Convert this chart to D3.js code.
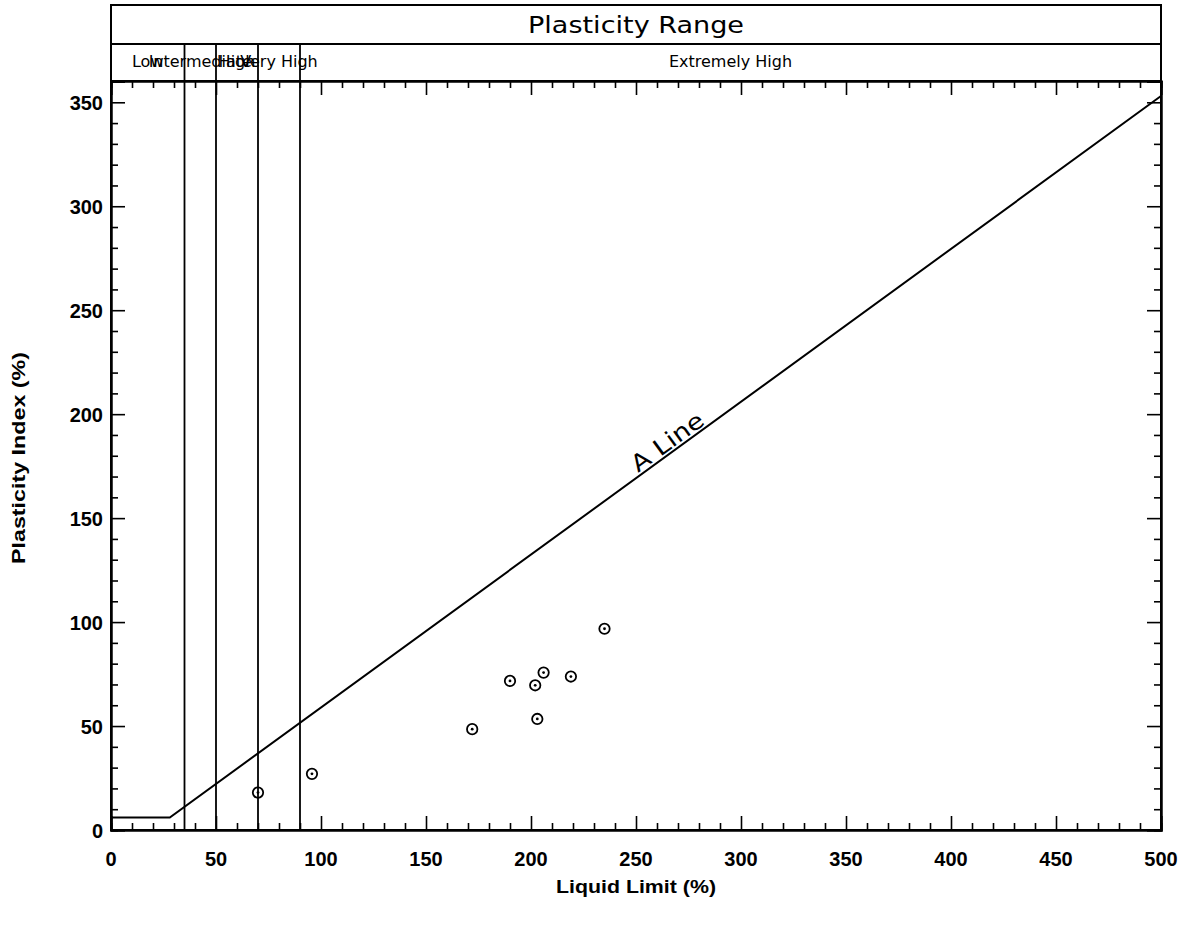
<!DOCTYPE html>
<html><head><meta charset="utf-8">
<script src="https://cdn.jsdelivr.net/npm/d3@7"></script>
<style>body{margin:0;background:#fff}</style>
</head><body>
<svg id="c" width="1184" height="926"></svg>
<script>
// Data
const samplesLL = [70, 95.7, 172, 190, 202, 203, 206, 219, 235];
const samplesPI = [18, 27, 48.5, 71.7, 69.6, 53.4, 75.7, 73.8, 96.8];
const aLineLL = [0, 28, 500];
const aLinePI = [6, 6, 353];
const rangeBounds = [0, 35, 50, 70, 90, 500];
const rangeLabels = ["Low", "Intermediate", "High", "Very High", "Extremely High"];
const xTicks = [0, 50, 100, 150, 200, 250, 300, 350, 400, 450, 500];
const yTicks = [0, 50, 100, 150, 200, 250, 300, 350];

const svg = d3.select("#c");
const L = 111, R = 1161, T = 81, B = 830, HT = 5, HM = 44;
const x = d3.scaleLinear().domain([0, 500]).range([L, R]);
const y = d3.scaleLinear().domain([0, 360]).range([B, T + 0.5]);
const ink = "#000";
const sw = 1.8;

// header box
svg.append("rect").attr("x", L).attr("y", HT).attr("width", R - L).attr("height", B - HT)
  .attr("fill", "none").attr("stroke", ink).attr("stroke-width", 2);
svg.append("line").attr("x1", L).attr("x2", R).attr("y1", HM).attr("y2", HM).attr("stroke", ink).attr("stroke-width", sw);
svg.append("line").attr("x1", L).attr("x2", R).attr("y1", T).attr("y2", T).attr("stroke", ink).attr("stroke-width", 2);
svg.append("text").attr("x", (L + R) / 2).attr("y", 33).attr("text-anchor", "middle")
  .attr("font-family", "DejaVu Sans, sans-serif").attr("font-size", 23)
  .attr("textLength", 216).attr("lengthAdjust", "spacingAndGlyphs").text("Plasticity Range");

// range boundary lines
svg.selectAll("line.rb").data(rangeBounds.slice(1, -1)).enter().append("line")
  .attr("x1", d => x(d)).attr("x2", d => x(d)).attr("y1", HM).attr("y2", B)
  .attr("stroke", ink).attr("stroke-width", sw);
svg.selectAll("text.rl").data(rangeLabels).enter().append("text")
  .attr("x", (d, i) => (x(rangeBounds[i]) + x(rangeBounds[i + 1])) / 2)
  .attr("y", 67).attr("text-anchor", "middle")
  .attr("font-family", "DejaVu Sans, sans-serif").attr("font-size", 16).text(d => d);

// axes with inward ticks
const gx = svg.append("g").attr("transform", `translate(0,${B})`);
const gxt = svg.append("g").attr("transform", `translate(0,${T})`);
const gy = svg.append("g").attr("transform", `translate(${L},0)`);
const gyr = svg.append("g").attr("transform", `translate(${R},0)`);
const minorX = d3.range(0, 501, 10).filter(v => v % 50 !== 0);
const minorY = d3.range(0, 361, 10).filter(v => v % 50 !== 0);
function styleAx(g){ g.select(".domain").attr("stroke", ink).attr("stroke-width", 2); g.selectAll(".tick line").attr("stroke", ink).attr("stroke-width", 1.6); }
gx.call(d3.axisTop(x).tickValues(xTicks).tickSize(14).tickFormat("")).call(styleAx);
gx.call(g => g.append("g").call(d3.axisTop(x).tickValues(minorX).tickSize(7).tickFormat("")).call(styleAx));
gxt.call(d3.axisBottom(x).tickValues(xTicks).tickSize(14).tickFormat("")).call(styleAx);
gxt.call(g => g.append("g").call(d3.axisBottom(x).tickValues(minorX).tickSize(7).tickFormat("")).call(styleAx));
gy.call(d3.axisRight(y).tickValues(yTicks).tickSize(14).tickFormat("")).call(styleAx);
gy.call(g => g.append("g").call(d3.axisRight(y).tickValues(minorY).tickSize(7).tickFormat("")).call(styleAx));
gyr.call(d3.axisLeft(y).tickValues(yTicks).tickSize(14).tickFormat("")).call(styleAx);
gyr.call(g => g.append("g").call(d3.axisLeft(y).tickValues(minorY).tickSize(7).tickFormat("")).call(styleAx));

// tick labels
const lf = "Liberation Sans, Arial, sans-serif";
svg.selectAll("text.xt").data(xTicks).enter().append("text")
  .attr("x", d => x(d)).attr("y", 866).attr("text-anchor", "middle")
  .attr("font-family", lf).attr("font-weight", "bold").attr("font-size", 20).text(d => d);
svg.selectAll("text.yt").data(yTicks).enter().append("text")
  .attr("x", 103).attr("y", d => y(d) + 7.5).attr("text-anchor", "end")
  .attr("font-family", lf).attr("font-weight", "bold").attr("font-size", 20).text(d => d);

// axis titles
svg.append("text").attr("x", 636).attr("y", 893).attr("text-anchor", "middle")
  .attr("font-family", lf).attr("font-weight", "bold").attr("font-size", 18)
  .attr("textLength", 160).attr("lengthAdjust", "spacingAndGlyphs").text("Liquid Limit (%)");
svg.append("text").attr("transform", `translate(25,458) rotate(-90)`).attr("text-anchor", "middle")
  .attr("font-family", lf).attr("font-weight", "bold").attr("font-size", 17.5)
  .attr("textLength", 212).attr("lengthAdjust", "spacingAndGlyphs").text("Plasticity Index (%)");

// A line
const aPts = aLineLL.map((v, i) => [x(v), y(aLinePI[i])]);
svg.append("path").attr("d", d3.line()(aPts)).attr("fill", "none").attr("stroke", ink).attr("stroke-width", 2);
const ang = Math.atan2(aPts[2][1] - aPts[1][1], aPts[2][0] - aPts[1][0]) * 180 / Math.PI;
const lx = 268, lpx = x(lx), lpy = y(aLinePI[1] + (aLinePI[2] - aLinePI[1]) * (lx - aLineLL[1]) / (aLineLL[2] - aLineLL[1]));
svg.append("text").attr("transform", `translate(${lpx},${lpy}) rotate(${ang}) translate(0,-3)`)
  .attr("text-anchor", "middle").attr("font-family", "DejaVu Sans, sans-serif").attr("font-size", 23)
  .attr("textLength", 84).attr("lengthAdjust", "spacingAndGlyphs").text("A Line");

// samples
const pts = svg.append("g").selectAll("g").data(samplesLL).enter().append("g")
  .attr("transform", (d, i) => `translate(${x(d)},${y(samplesPI[i])})`);
pts.append("circle").attr("r", 5.2).attr("fill", "none").attr("stroke", ink).attr("stroke-width", 1.8);
pts.append("circle").attr("r", 1.4).attr("fill", ink);
</script>
</body></html>
